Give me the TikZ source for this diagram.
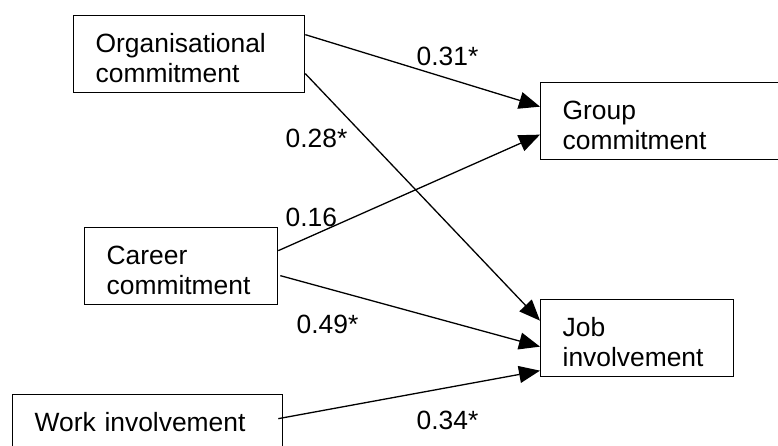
\documentclass[tikz,border=0pt]{standalone}
\usepackage{fontspec}
\setmainfont{Liberation Sans}
\usetikzlibrary{arrows.meta}

\begin{document}
\begin{tikzpicture}[x=1pt,y=-1pt,->,>={Triangle[length=21pt,width=17pt]},line width=1.3pt,
  font=\fontsize{26.4}{30}\selectfont,
  var/.style={draw,rectangle,anchor=north west,align=left,inner xsep=22pt,inner ysep=0pt,
    text height=37pt,text depth=40pt},
  coef/.style={anchor=base west,inner sep=0pt}]
  \useasboundingbox (0,0) rectangle (778,446);

  \node[var,text width=187pt] (org)    at (73,15)  {Organisational\\commitment};
  \node[var,text width=194pt] (group)  at (540,82) {Group\\commitment};
  \node[var,text width=149pt] (career) at (84,227) {Career\\commitment};
  \node[var,text width=149pt] (job)    at (540,299) {Job\\involvement};
  \node[var,text width=226pt] (work)   at (12,394) {Work involvement};

  \path ([yshift=19.5pt]org.east)            edge ([yshift=14.5pt]group.west)
        ([yshift=-19.5pt]org.east)           edge ([yshift=17.5pt]job.west)
        ([yshift=15.5pt]career.east)         edge ([yshift=-13.5pt]group.west)
        ([xshift=2pt,yshift=-9.5pt]career.east) edge ([yshift=-8.5pt]job.west)
        ([xshift=-5pt,yshift=14.5pt]work.east)  edge ([yshift=-32.5pt]job.west)
  ;

  \node[coef] (c31) at (416,66)  {0.31*};
  \node[coef] (c28) at (285,148) {0.28*};
  \node[coef] (c16) at (285,226) {0.16};
  \node[coef] (c49) at (296,333) {0.49*};
  \node[coef] (c34) at (416,429) {0.34*};
\end{tikzpicture}
\end{document}
